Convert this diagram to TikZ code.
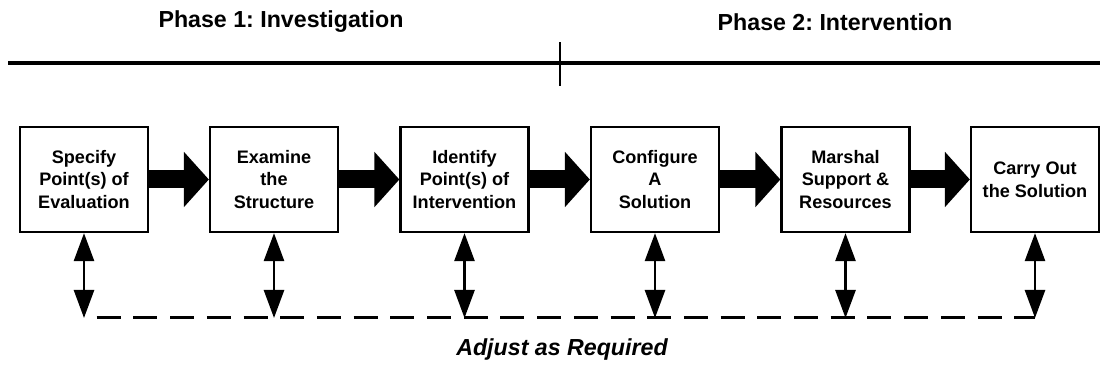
\documentclass[tikz,border=0pt]{standalone}
\usepackage{fontspec}
\setmainfont{Liberation Sans}
\usetikzlibrary{arrows.meta}
\frenchspacing

\tikzset{
  stagebox/.style={draw, line width=1.3pt, minimum width=2.56cm, minimum height=2.1cm,
    inner sep=2pt, align=center, font=\fontsize{10.3}{13}\selectfont\bfseries},
  flowarrow/.style={line width=0.36cm, -{Triangle[width=1.08cm,length=0.5cm]}},
  adjustarrow/.style={line width=1.5pt,
    {Triangle[width=0.4cm,length=0.56cm]}-{Triangle[width=0.4cm,length=0.56cm]}},
  phaselabel/.style={font=\fontsize{13.2}{16}\selectfont\bfseries},
  adjustlabel/.style={font=\fontsize{13.2}{16}\selectfont\bfseries\itshape},
}

\begin{document}
\begin{tikzpicture}
\useasboundingbox (0,0) rectangle (22,7.46);
% Timeline
\draw[line width=2.3pt] (0.16,6.2) -- (22,6.2);
\draw[line width=1.2pt] (11.2,5.74) -- (11.2,6.62);
\node[phaselabel] (phase1) at (5.62,7.02) {Phase 1: Investigation};
\node[phaselabel] (phase2) at (16.7,7.02) {Phase 2: Intervention};

% Stages
\foreach \i/\x/\txt in {1/1.68/{Specify\\Point(s) of\\Evaluation},
    2/5.48/{Examine\\the\\Structure},
    3/9.29/{Identify\\Point(s) of\\Intervention},
    4/13.10/{Configure\\A\\Solution},
    5/16.91/{Marshal\\Support \&\\Resources},
    6/20.70/{Carry Out\\the Solution}} {
    \node[stagebox] (s\i) at (\x,3.87) {\txt};
}
\foreach \i/\j in {1/2,2/3,3/4,4/5,5/6} {
    \draw[flowarrow] (s\i.east) -- (s\j.west);
}

% Adjustment loop
\foreach \i in {1,...,6} {
    \coordinate (a\i) at (s\i.south |- 0,1.1);
    \draw[adjustarrow] (s\i.south) -- (a\i);
}
\draw[line width=1.7pt, dash pattern=on 0.48cm off 0.254cm, dash phase=0.48cm] (a1) -- (a6);
\node[adjustlabel] (adjust) at (11.24,0.46) {Adjust as Required};
\end{tikzpicture}
\end{document}
